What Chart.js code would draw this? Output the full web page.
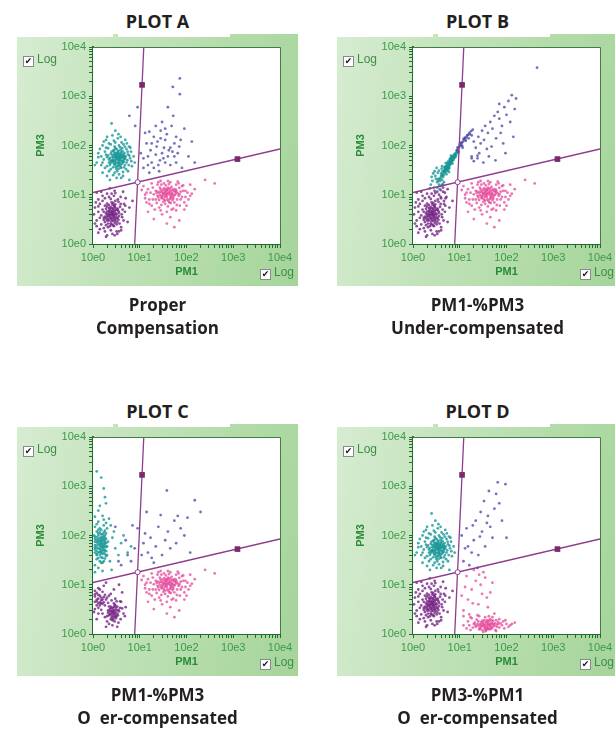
<!DOCTYPE html>
<html>
<head>
<meta charset="utf-8">
<script src="https://cdn.jsdelivr.net/npm/chart.js@4.4.1/dist/chart.umd.min.js"></script>
<style>
  html, body { margin: 0; padding: 0; background: #fff; }
  body { width: 615px; height: 732px; position: relative; overflow: hidden; font-family: "Open Sans", sans-serif; }
  .title { position: absolute; width: 281px; text-align: center; font-weight: 700; font-size: 18px; line-height: 24px; color: #231f20; }
  .caption { position: absolute; width: 281px; text-align: center; font-weight: 700; font-size: 17px; line-height: 23px; color: #231f20; white-space: pre; }
  .panel { position: absolute; width: 281px; height: 252px;
    background: linear-gradient(100deg, #d6ecd1 0%, #c4e3bc 35%, #b2dba8 70%, #a6d49b 100%); }
  .panel canvas { position: absolute; left: 0; top: 0; }
  .strip { position: absolute; top: 0; height: 3px; background: #fff; }
  .chk { position: absolute; font-family: "Liberation Sans", Arial, sans-serif; font-size: 12px; line-height: 12px; color: #3d8f45; white-space: nowrap; }
  .chk .box { display: inline-block; width: 9px; height: 9px; border: 1px solid #8a8a8a; background: #fff;
    font-family: "DejaVu Sans", sans-serif; font-size: 9px; line-height: 9px; color: #111; text-align: center; vertical-align: -1px; margin-right: 3px; }
</style>
</head>
<body>
<div class="title" style="left:17px;top:9px">PLOT A</div>
<div class="title" style="left:337px;top:9px">PLOT B</div>
<div class="title" style="left:17px;top:399px">PLOT C</div>
<div class="title" style="left:337px;top:399px">PLOT D</div>

<div class="panel" style="left:17px;top:34px"><div class="strip" style="left:0;width:96px"></div><div class="strip" style="left:101px;width:112px"></div><canvas id="plotA" width="281" height="252"></canvas>
  <div class="chk" style="left:6px;top:19px"><span class="box">✔</span>Log</div>
  <div class="chk" style="left:243px;top:232px"><span class="box">✔</span>Log</div></div>
<div class="panel" style="left:337px;top:34px"><div class="strip" style="left:0;width:96px"></div><div class="strip" style="left:101px;width:112px"></div><canvas id="plotB" width="281" height="252"></canvas>
  <div class="chk" style="left:6px;top:19px"><span class="box">✔</span>Log</div>
  <div class="chk" style="left:243px;top:232px"><span class="box">✔</span>Log</div></div>
<div class="panel" style="left:17px;top:424px"><div class="strip" style="left:0;width:96px"></div><div class="strip" style="left:101px;width:112px"></div><canvas id="plotC" width="281" height="252"></canvas>
  <div class="chk" style="left:6px;top:19px"><span class="box">✔</span>Log</div>
  <div class="chk" style="left:243px;top:232px"><span class="box">✔</span>Log</div></div>
<div class="panel" style="left:337px;top:424px"><div class="strip" style="left:0;width:96px"></div><div class="strip" style="left:101px;width:112px"></div><canvas id="plotD" width="281" height="252"></canvas>
  <div class="chk" style="left:6px;top:19px"><span class="box">✔</span>Log</div>
  <div class="chk" style="left:243px;top:232px"><span class="box">✔</span>Log</div></div>

<div class="caption" style="left:17px;top:293px">Proper
Compensation</div>
<div class="caption" style="left:337px;top:293px">PM1-%PM3
Under-compensated</div>
<div class="caption" style="left:17px;top:683px">PM1-%PM3
O  er-compensated</div>
<div class="caption" style="left:337px;top:683px">PM3-%PM1
O  er-compensated</div>

<script>
// 축 눈금 (로그, 10e0 ~ 10e4)
const majorTicks = [1, 10, 100, 1000, 10000];
const tickLabels = ["10e0", "10e1", "10e2", "10e3", "10e4"];

// 게이트 (사분면 선)
const gateVert = [[7.8, 1], [12.2, 10000]];
const gateHoriz = [[1, 11.1], [10000, 85]];
const gateMarks = [[11.2, 1700], [1230, 53]];
const gateCross = [[9.0, 18]];

// PM1 (x), PM3 (y) 이벤트
const tealA = [[3.4,55],[2.9,48],[4.1,62],[3.1,70],[3.8,41],[2.6,58],[4.6,52],[3.3,38],[2.4,44],[3.9,80],[2.8,66],[4.3,45],[3.6,34],[3.0,88],[5.0,60],[2.2,52],[3.5,47],[4.0,72],[2.7,36],[3.2,62],[4.8,40],[2.5,75],[3.7,56],[3.0,42],[4.4,66],[2.1,63],[3.3,30],[5.4,50],[2.9,95],[3.8,50],[2.3,40],[4.2,88],[3.5,65],[2.6,49],[4.7,70],[3.1,53],[3.9,37],[2.8,80],[4.5,57],[3.4,44],[2.0,58],[3.6,100],[5.2,45],[2.4,68],[3.2,33],[3.7,60],[3.0,57],[4.1,49],[2.7,52],[3.5,78],
  [3.1,45],[3.6,51],[2.8,59],[4.0,55],[3.3,67],[2.5,50],[4.4,48],[3.8,63],[2.9,40],[3.4,74],[4.2,58],[2.7,46],[3.5,39],[3.0,64],[4.6,62],[2.3,56],[3.7,45],[3.2,84],[4.9,54],[2.6,64],[3.9,68],[3.1,36],[4.3,76],[2.4,48],[3.6,58],[2.9,72],[4.1,42],[3.4,52],[2.8,43],[3.8,92],[4.5,46],[3.0,50],[3.5,70],[2.2,45],[4.0,35],[3.3,57],[2.7,78],[4.7,58],[3.6,42],[3.1,60],
  [1.6,45],[1.8,75],[2.0,38],[1.9,130],[2.4,105],[2.8,125],[3.4,140],[4.1,115],[4.8,95],[5.5,75],[6.0,62],[5.8,40],[5.1,33],[4.4,29],[3.6,26],[2.9,28],[2.2,30],[1.7,52],[1.5,40],[2.1,88],[2.6,160],[3.9,150],[5.2,85],[6.6,48],[1.3,58],[2.0,24],[3.2,22],[4.6,36],[6.3,90],[1.6,100],[3.0,115],[4.5,105],[5.6,66],[2.4,33],[1.9,65],
  [1.5,60],[1.8,35],[6.2,55],[1.4,85],[6.8,38],[1.7,120],[5.9,95],[1.2,45],[2.0,150],[4.9,130],[3.5,170],[7.4,60],[1.6,28],[2.7,25],[4.4,24],[5.6,30],[1.3,70],[3.0,200],[6.5,75],[2.2,110],[1.1,40],[4.0,22],[7.8,45],[2.5,280],[1.9,90],[5.3,110],[6.0,20],[2.3,20]];
const purpleA = [[2.5,3.9],[2.1,3.2],[2.9,4.6],[2.3,5.1],[2.7,3.0],[1.9,4.2],[3.1,3.6],[2.4,2.6],[2.0,5.8],[3.3,4.9],[2.6,6.3],[1.7,3.4],[2.8,2.3],[2.2,4.0],[3.5,3.1],[1.8,2.8],[2.5,7.0],[3.0,5.5],[2.1,2.2],[2.7,3.9],[1.6,5.0],[3.6,4.3],[2.3,3.5],[2.9,2.7],[2.0,6.6],[3.2,2.5],[1.5,3.8],[2.6,4.4],[2.4,1.9],[3.8,5.7],[1.9,2.4],[2.8,6.0],[2.2,4.7],[3.4,3.4],[1.7,4.5],[2.5,2.9],[3.0,7.5],[2.0,3.6],[2.7,5.2],[1.8,6.0],[2.4,4.5],[2.8,3.4],[2.2,3.0],[3.1,4.2],
  [2.6,3.5],[2.2,4.4],[2.9,3.2],[2.4,5.6],[2.8,4.8],[2.0,3.0],[3.2,4.0],[2.5,2.5],[2.3,3.8],[3.0,3.0],[1.9,5.2],[2.7,6.8],[3.4,5.2],[2.1,2.6],[2.6,4.1],[2.9,5.8],[1.8,3.6],[3.3,2.8],[2.4,3.3],[2.7,2.4],[2.2,6.2],[3.1,5.0],[2.0,4.6],[2.5,4.7],[3.6,3.7],[1.7,3.1],[2.8,3.7],[2.3,2.3],[3.0,6.4],[2.6,5.3],[2.1,3.7],[3.5,4.6],[2.4,4.1],[1.9,3.3],[2.9,4.0],[2.2,5.4],[3.2,3.3],[2.7,4.4],[2.5,3.2],[2.0,4.0],
  [1.3,4.5],[1.4,6.5],[1.5,2.5],[1.2,2.3],[1.6,7.5],[1.8,8.5],[2.2,9.0],[2.8,9.5],[3.4,8.0],[3.9,6.5],[4.3,5.0],[4.5,3.0],[4.0,1.9],[3.2,1.8],[2.6,1.6],[1.8,1.8],[1.4,3.4],[1.15,7.0],[2.0,10.5],[3.0,10.8],[3.7,2.6],[4.9,6.0],[1.3,5.8],[2.4,8.2],[1.7,2.1],[3.5,7.2],[4.1,4.0],[1.1,2.6],[2.9,1.5],[1.5,11.5],
  [1.2,3.0],[1.1,5.5],[4.2,3.5],[4.6,6.5],[1.3,8.0],[3.9,9.0],[1.4,2.0],[2.5,10.5],[4.0,2.2],[1.2,11.0],[3.3,1.6],[2.0,1.5],[1.6,9.5],[4.8,4.5],[2.9,12.0],[1.05,4.0],[3.6,1.8],[5.0,8.5],[2.3,13.5],[1.9,1.4],[4.4,11.5],[1.3,1.7],[6.0,5.5],[5.5,2.8],[7.0,7.5]];
const pinkA = [[37,10],[30,8.5],[45,12],[28,11.5],[52,9],[33,13.5],[41,7.5],[24,9.5],[60,11],[35,6.5],[48,14.5],[26,7.8],[39,10.8],[55,7],[31,12.5],[68,9.5],[22,12],[44,8.2],[36,15.5],[29,6.2],[58,13],[40,5.8],[20,10.2],[50,10.5],[34,9],[75,11.5],[27,14],[46,6.8],[63,8],[38,12.5],[25,8.8],[42,16.5],[32,7.2],[54,11.8],[19,8],[70,13.8],[35,11],[47,9.2],[23,6.8],[80,9],
  [36,9.5],[43,10.5],[31,10],[49,12.5],[27,9.8],[39,8],[57,10],[34,12],[41,13],[29,8.8],[52,8.3],[37,11.8],[45,9.6],[23,10.8],[61,12],[33,8],[47,11],[40,14],[26,11],[54,9.8],[35,7.6],[44,13.5],[30,9.4],[65,10.6],[38,9],[50,7.8],[28,12.8],[42,11.4],[32,10.6],[58,11.6],[36,13],[46,8.6],[24,11.6],[40,10.2],[53,12.8],[34,10.4],[71,10.2],[48,10],[30,11.2],[43,7],
  [13,10],[15,13],[16,8],[18,6],[19,14],[21,5],[24,16],[28,4.8],[33,17],[38,4.5],[45,18],[52,5.2],[60,16],[72,6],[85,12],[95,9],[80,15],[105,11],[17,11],[22,8],[90,7],[68,17],[29,16],[48,5],[62,6.2],[14,7],[120,9.5],[75,8],[40,19],[26,5.5],
  [14,11],[16,6.5],[12,15],[95,12],[110,8],[18,17],[130,10.5],[85,15.5],[15,4.5],[30,4.0],[45,3.5],[60,4.8],[13,8.5],[100,6],[25,18],[65,18.5],[11,12.5],[150,13],[38,2.6],[55,2.2],[20,3.2],[90,5],[120,16],[28,19],[400,17],[250,20],[70,3.0]];
const navyA = [[23,95],[15,60],[35,130],[18,45],[42,80],[28,200],[12,35],[55,110],[20,150],[32,55],[65,70],[14,110],[48,250],[25,40],[38,170],[75,130],[17,80],[30,300],[60,45],[22,65],[45,40],[13,180],[52,400],[40,600],[72,1100],[51,1550],[72,2300],[90,220],[110,60],[26,30],[16,28],[130,120],[80,35],[10.5,70],[33,90],[150,45],[8,250],[6,400],[9,600],
  [20,35],[27,50],[35,45],[15,40],[30,70],[40,60],[50,75],[18,110],[24,120],[45,90],[60,150],[35,220],[28,140],[12,55],[55,60],[70,95],[22,250],[16,190]];

const tealB = [[3.3,18],[3.6,16],[3.9,22],[4.2,20],[4.0,27],[4.5,25],[4.6,31],[4.9,28],[5.1,35],[5.3,30],[5.5,41],[5.8,37],[5.9,44],[6.2,40],[6.4,50],[6.7,45],[6.9,55],[7.2,50],[7.3,60],[7.7,57],[7.9,68],[8.3,62],[8.6,75],[9.0,70],[4.3,30],[4.8,33],[5.2,26],[5.6,47],[6.0,35],[6.6,58],[7.0,43],[7.6,66],[5.0,38],[5.7,32],[6.1,52],[6.8,48],[4.4,23],[3.8,19],[5.4,44],[6.3,42],[7.4,53],[8.0,58],[4.7,36],[5.9,29],[3.5,21],[4.1,34],[6.5,62],[8.8,80],
  [4.0,24],[4.4,27],[4.8,30],[5.2,33],[5.6,38],[6.0,43],[6.4,47],[6.9,52],[7.4,58],[8.0,64],[4.2,25],[4.6,29],[5.0,32],[5.4,36],[5.8,41],[6.2,45],[6.7,50],[7.1,56],[7.7,61],[8.4,70],[3.7,21],[4.9,35],[5.3,39],[5.7,35],[6.1,48],[6.6,53],[7.0,61],[3.4,19],[5.5,34],[6.3,55],
  [2.8,14],[3.0,24],[2.6,19],[3.4,28],[2.9,30],[3.7,13],[2.5,23],[4.6,18],[3.2,35],[3.9,15],[2.4,16],[3.1,21],[4.2,38],[3.6,31],[2.7,27],[5.0,44],[4.4,16],[3.3,14]];
const purpleBExtra = [[4.0,8.5],[4.8,11],[3.6,10],[4.4,14],[5.2,9],[3.9,12.5],[4.6,7.5],[5.5,13],[3.3,11.5],[4.2,16]];
const navyB = [[8.7,80],[9.3,88],[9.8,95],[10.5,100],[11,110],[11.8,120],[12.5,130],[13.2,140],[14,150],[15,165],[16,180],[17.5,195],[9.0,92],[10,105],[11.3,98],[12,135],[13.5,125],[14.5,160],[10.8,115],[12.8,145],[15.5,140],[16.5,170],[18,160],[19,210],[9.5,75],[11.5,90],
  [20,120],[25,150],[22,90],[30,200],[28,110],[35,250],[26,70],[40,180],[45,300],[33,130],[50,220],[38,85],[55,400],[60,140],[48,95],[70,350],[42,60],[65,480],[80,250],[90,600],[75,180],[100,420],[110,800],[120,300],[130,1050],[85,110],[95,70],[140,150],[24,55],[18,60],[32,45],[58,50],[160,900],[450,3800],[70,700],[150,550],[18,55],[20,48],[24,62]];

const tealC = [[1.2,40],[1.5,55],[1.8,70],[1.1,85],[1.4,30],[1.7,45],[1.3,100],[1.6,62],[1.9,38],[1.2,120],[1.5,80],[1.8,50],[1.1,58],[1.4,140],[1.7,95],[1.3,35],[2.0,60],[1.6,28],[1.2,72],[1.9,110],[1.5,44],[1.1,25],[1.8,88],[1.4,52],[1.7,160],[1.3,66],[1.6,105],[2.1,75],[1.2,48],[1.5,130],[1.8,34],[1.4,76],[1.1,150],[1.7,58],[1.3,22],[1.6,90],[1.9,48],[1.2,170],[1.5,68],[1.05,100],[2.0,40],[1.4,115],[1.7,30],[1.3,84],[1.6,42],[1.8,125],[1.1,64],[1.5,36],[1.2,92],[1.9,70],
  [1.3,45],[1.6,58],[1.2,62],[1.5,92],[1.8,42],[1.1,75],[1.4,60],[1.7,80],[1.3,55],[1.6,72],[1.2,33],[1.9,58],[1.5,48],[1.4,88],[1.1,45],[1.7,66],[1.3,110],[1.6,50],[1.2,80],[1.8,100],[1.5,62],[1.4,40],[1.7,52],[1.3,75],[1.6,35],[1.2,55],[1.9,85],[1.5,105],[1.1,95],[1.4,68],[1.8,62],[1.3,130],[1.6,82],[1.2,42],[1.5,28],[1.7,115],[1.4,46],[1.1,52],[1.8,76],[1.5,74],
  [1.6,250],[1.4,400],[1.8,600],[1.3,320],[1.7,900],[1.5,1500],[2.2,220],[1.2,2000],[1.9,450],[2.4,160],[2.6,90],[3.0,55],[2.8,120],[3.5,40],[4.0,70],[2.3,30],[1.1,18],[1.6,19],[5.5,45],[4.5,100],[6.5,60],[2.5,20],[1.3,190],[1.7,210],[1.1,240],[2.0,140],[1.9,180]];
const purpleC = [[2.6,2.8],[2.3,3.2],[2.9,2.5],[3.2,3.0],[2.5,2.2],[2.1,2.7],[2.8,3.5],[3.4,2.4],[2.4,2.0],[3.0,3.8],[2.7,2.6],[2.2,3.6],[3.6,2.9],[2.0,2.3],[2.5,3.3],[3.1,2.1],[2.8,4.2],[3.8,3.4],[2.3,2.9],[2.6,1.9],[1.8,3.8],[3.3,3.6],[2.9,1.8],[2.1,4.3],[1.1,4.5],[1.3,5.2],[1.2,3.8],[1.5,4.8],[1.4,6.0],[1.1,5.8],[1.6,4.1],[1.3,3.4],[1.7,5.6],[1.2,6.8],[1.5,3.1],[1.9,5.0],[1.4,4.4],[1.1,7.5],[1.8,6.2],[1.6,2.6],[2.0,5.5],[1.3,8.5],[2.4,6.5],[3.0,5.2],[4.0,4.5],[4.5,2.6],[1.7,9.5],[2.2,1.6],[3.5,1.7],[1.05,2.8],[4.2,7.0],[2.8,8.0],[1.9,11],[3.6,10],[5.0,3.5],[1.2,2.0],
  [2.7,3.0],[2.4,2.6],[3.0,2.7],[2.6,3.4],[2.9,3.1],[2.2,2.4],[3.3,2.6],[2.5,2.9],[2.8,2.2],[3.1,3.4],[2.3,2.5],[2.7,2.0],[3.5,3.1],[2.6,2.4],[2.1,3.0],[3.2,2.3],[2.9,3.9],[2.4,3.6],[3.0,2.3],[2.8,2.8],[1.3,4.2],[1.2,5.0],[1.5,5.5],[1.4,3.8],[1.1,6.4],[1.6,5.0],[1.3,6.2],[1.7,4.4],[1.2,4.6],[1.5,4.2],
  [1.1,3.2],[1.3,2.6],[1.8,2.2],[2.0,1.8],[3.9,2.0],[4.2,3.3],[3.8,4.6],[3.2,4.6],[2.5,4.8],[1.6,7.2],[1.4,8.0],[2.6,1.5],[3.3,1.4],[1.9,1.4],[4.8,2.3],[2.2,6.0]];
const navyC = [[4.0,25],[5.5,40],[6.5,30],[7.8,55],[5.0,80],[9,140],[12,70],[15,45],[13,110],[18,35],[22,60],[17,90],[25,150],[30,40],[35,80],[40,120],[28,260],[45,55],[55,200],[60,70],[75,140],[90,100],[38,820],[150,520],[200,300],[105,230],[65,250],[14,300],[11,40],[20,28],[7,160],[3.5,30],[120,45],[3.0,150]];

const pinkD = [[34,1.4],[28,1.6],[40,1.3],[22,1.5],[48,1.7],[30,1.2],[55,1.45],[25,1.8],[38,1.65],[45,1.25],[19,1.35],[62,1.55],[33,1.9],[27,1.3],[42,1.5],[70,1.35],[24,1.6],[36,1.15],[52,1.85],[31,1.45],[58,1.2],[21,1.7],[44,2.0],[80,1.5],[29,1.75],[37,1.3],[50,1.4],[16,1.5],[66,1.75],[35,1.55],[26,1.25],[46,1.6],[90,1.3],[23,1.95],[40,1.8],[100,1.6],[14,1.3],[60,1.9],[32,1.1],[75,1.65],
  [33,1.5],[39,1.4],[28,1.35],[44,1.55],[36,1.75],[31,1.6],[49,1.3],[25,1.45],[41,1.65],[53,1.55],[30,1.85],[37,1.2],[46,1.45],[22,1.4],[57,1.65],[34,1.25],[43,1.85],[27,1.55],[39,1.5],[62,1.4],[35,1.35],[48,1.9],[20,1.6],[32,1.7],[45,1.35],[52,1.6],[29,1.45],[38,1.9],[67,1.6],[41,1.25],
  [12,1.5],[15,1.8],[18,2.1],[26,2.3],[35,2.2],[50,2.2],[70,2.0],[85,1.8],[110,1.4],[130,1.6],[17,1.2],[60,1.15],[95,1.9],[42,2.3],
  [12,3],[15,5],[18,8],[22,12],[14,15],[25,4],[30,6.5],[20,20],[16,2.5],[28,10],[35,14],[40,3.5],[45,7],[13,9],[24,2.4],[19,4.2],[32,18],[11,6],[50,11],[26,16],[17,2.2],[38,5.5],[120,1.5],[150,1.7],[12,2.3],[55,2.6]];
const navyD = [[12,30],[15,60],[18,45],[11,100],[20,80],[25,40],[14,140],[30,120],[22,200],[35,60],[40,250],[28,300],[45,150],[50,90],[55,350],[33,500],[60,700],[70,450],[80,200],[65,1200],[95,1100],[38,180],[16,25],[24,22],[100,90],[13,55],[19,160],[42,800],[27,95]];

const COLORS = { teal: "rgba(22,150,150,0.8)", purple: "rgba(118,36,132,0.8)", pink: "rgba(228,72,152,0.75)", navy: "rgba(70,70,165,0.75)" };
const GATE = "#8e3d8e";
const AXIS_GREEN = "#1f6e2f";
const LABEL_GREEN = "#3b9a48";

// 마이너 눈금: 각 10진 구간의 2..9 배
const tickValues = [];
majorTicks.forEach(function (m, i) {
  tickValues.push(m);
  if (i < majorTicks.length - 1) for (let k = 2; k <= 9; k++) tickValues.push(m * k);
});

const plotFrame = {
  id: "plotFrame",
  beforeDatasetsDraw(chart) {
    const a = chart.chartArea, ctx = chart.ctx;
    ctx.save();
    ctx.fillStyle = "#fff";
    ctx.fillRect(a.left, a.top, a.right - a.left, a.bottom - a.top);
    ctx.restore();
  },
  afterDraw(chart) {
    const a = chart.chartArea, ctx = chart.ctx;
    ctx.save();
    ctx.strokeStyle = "#3f7f46";
    ctx.lineWidth = 1;
    ctx.beginPath();
    ctx.moveTo(a.left, a.top + 0.5); ctx.lineTo(a.right + 0.5, a.top + 0.5); ctx.lineTo(a.right + 0.5, a.bottom);
    ctx.stroke();
    ctx.fillStyle = "#2a8a3a";
    ctx.font = "bold 11px 'Liberation Sans', Arial, sans-serif";
    ctx.textAlign = "center"; ctx.textBaseline = "middle";
    ctx.fillText("PM1", (a.left + a.right) / 2, a.bottom + 28);
    ctx.translate(a.left - 52, (a.top + a.bottom) / 2);
    ctx.rotate(-Math.PI / 2);
    ctx.fillText("PM3", 0, 0);
    ctx.restore();
  }
};

function logAxis(isX) {
  return {
    type: "logarithmic", min: 1, max: 10000,
    afterBuildTicks: (s) => { s.ticks = tickValues.map((v) => ({ value: v })); },
    afterFit: (s) => { if (isX) s.height = 42; else s.width = 76; },
    ticks: {
      autoSkip: false, maxRotation: 0, padding: 3, color: LABEL_GREEN,
      font: { family: "'Liberation Sans', Arial, sans-serif", size: 11 },
      callback: (v) => { const i = majorTicks.indexOf(v); return i >= 0 ? tickLabels[i] : ""; }
    },
    grid: { drawOnChartArea: false, drawTicks: true, tickLength: 4, color: AXIS_GREEN },
    border: { display: true, color: AXIS_GREEN, width: 2 }
  };
}

function cloud(data, color) {
  return { type: "scatter", data: data, backgroundColor: color, pointRadius: 1.4, borderWidth: 0, pointHoverRadius: 1.4 };
}

function makePlot(id, teal, purple, pink, navy) {
  new Chart(document.getElementById(id), {
    type: "scatter",
    data: {
      datasets: [
        { type: "scatter", data: gateCross, pointRadius: 2.5, backgroundColor: "#fff", borderColor: GATE, borderWidth: 1 },
        { type: "scatter", data: gateMarks, pointStyle: "rect", pointRadius: 4, backgroundColor: "#7a2a6e", borderWidth: 0 },
        { type: "line", data: gateVert, borderColor: GATE, borderWidth: 1.3, pointRadius: 0, fill: false },
        { type: "line", data: gateHoriz, borderColor: GATE, borderWidth: 1.3, pointRadius: 0, fill: false },
        cloud(navy, COLORS.navy),
        cloud(pink, COLORS.pink),
        cloud(teal, COLORS.teal),
        cloud(purple, COLORS.purple)
      ]
    },
    options: {
      responsive: false, animation: false,
      layout: { padding: { left: 0, right: 18, top: 13, bottom: 0 } },
      plugins: { legend: { display: false }, tooltip: { enabled: false } },
      scales: { x: logAxis(true), y: logAxis(false) }
    },
    plugins: [plotFrame]
  });
}

makePlot("plotA", tealA, purpleA, pinkA, navyA);
makePlot("plotB", tealB, purpleA.concat(purpleBExtra), pinkA, navyB);
makePlot("plotC", tealC, purpleC, pinkA, navyC);
makePlot("plotD", tealA, purpleA, pinkD, navyD);
</script>
</body>
</html>
